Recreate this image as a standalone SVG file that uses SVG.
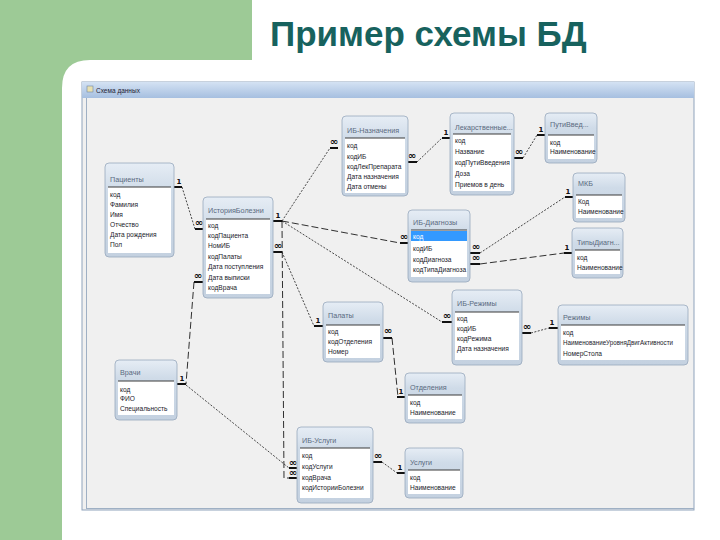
<svg xmlns="http://www.w3.org/2000/svg" width="720" height="540" viewBox="0 0 720 540">
<defs>
<linearGradient id="gFrame" x1="0" y1="0" x2="0" y2="1">
<stop offset="0" stop-color="#E6EDF5"/><stop offset="0.3" stop-color="#CFDBE8"/><stop offset="1" stop-color="#C4D1E0"/>
</linearGradient>
<linearGradient id="gBar" x1="0" y1="0" x2="0" y2="1">
<stop offset="0" stop-color="#D4E2F3"/><stop offset="1" stop-color="#A6BFE0"/>
</linearGradient>
<style>
.frame{fill:url(#gFrame);stroke:#98A8BC;stroke-width:0.8}
.list{fill:#FFFFFF}
.sep{stroke:#3A3A3A;stroke-width:1}
.ttl{font-family:"Liberation Sans",Arial,sans-serif;font-size:7.2px;fill:#5A6A80}
.row{font-family:"Liberation Sans",Arial,sans-serif;font-size:6.6px;fill:#1A1A2A}
.lnk{fill:none;stroke:#1A1A1A;stroke-width:0.8;stroke-dasharray:2,1.5}
.lnkL{fill:none;stroke:#1A1A1A;stroke-width:0.9;stroke-dasharray:7,3}
.bar{stroke:#111;stroke-width:2}
.card{font-family:"DejaVu Sans",sans-serif;font-size:7px;font-weight:bold;fill:#111;text-anchor:middle}
.inf{font-family:"DejaVu Sans",sans-serif;font-size:10px;font-weight:bold;fill:#111;text-anchor:middle}
</style>
</defs>

<!-- slide background -->
<rect width="720" height="540" fill="#FFFFFF"/>
<path d="M0,0 H252 V60 H62 V540 H0 Z" fill="#9DCA96"/>
<path d="M62,60 H90 Q62,60 62,88 Z" fill="#9DCA96"/>
<text x="270" y="46" font-family="'Liberation Sans',Arial,sans-serif" font-size="35" font-weight="bold" fill="#17625E">Пример схемы БД</text>

<!-- window -->
<g id="window">
<rect x="82" y="82" width="612" height="428" fill="#F0F0F0" stroke="#8FA3BC" stroke-width="1"/>
<rect x="82" y="82" width="612" height="16" fill="url(#gBar)"/>
<rect x="87" y="86" width="6" height="6" fill="#E8E0B0" stroke="#6F86A6" stroke-width="0.6"/>
<text x="96" y="93" font-family="'Liberation Sans',Arial,sans-serif" font-size="6.5" fill="#223">Схема данных</text>
<line x1="86.5" y1="98" x2="86.5" y2="508" stroke="#9FB0C4" stroke-width="1"/>
<line x1="86" y1="508.5" x2="694" y2="508.5" stroke="#9FB0C4" stroke-width="1"/>
</g>

<!-- connectors -->
<g id="connectors">
<path class="lnk" d="M182,187 L195,229"/>
<path class="lnk" d="M282,221 L330,148"/>
<path class="lnkL" d="M282,221 L400,243"/>
<path class="lnk" d="M282,221 L442,322"/>
<path class="lnkL" d="M282,221 L284,478 L289,478"/>
<path class="lnk" d="M282,252 L314,326"/>
<path class="lnkL" d="M194,282 L186,384"/>
<path class="lnk" d="M186,385 L289,468"/>
<path class="lnk" d="M417,162 L442,138"/>
<path class="lnk" d="M523,158 L537,135"/>
<path class="lnk" d="M480,253 L565,197"/>
<path class="lnkL" d="M480,264 L564,253"/>
<path class="lnk" d="M531,333 L549,328"/>
<path class="lnkL" d="M392,338 L398,397"/>
<path class="lnk" d="M382,462 L397,473"/>

<path class="bar" d="M174,187 H182 M195,229 H203 M273,221 H282 M273,252 H282 M194,282 H203 M177,384 H186 M330,148 H338 M400,243 H408 M442,322 H452 M289,468 H297 M289,478 H297 M314,326 H323 M408,162 H417 M442,138 H450 M514,158 H523 M537,135 H545 M470,253 H480 M565,197 H573 M470,264 H480 M564,253 H572 M522,333 H531 M549,328 H558 M383,338 H392 M397,397 H405 M373,462 H382 M397,473 H405"/>

<text class="card" x="179" y="184">1</text>
<text class="inf" x="199" y="226">∞</text>
<text class="card" x="278" y="218">1</text>
<text class="inf" x="278" y="249">∞</text>
<text class="inf" x="198" y="279">∞</text>
<text class="card" x="182" y="381">1</text>
<text class="inf" x="334" y="145">∞</text>
<text class="inf" x="404" y="240">∞</text>
<text class="inf" x="447" y="319">∞</text>
<text class="inf" x="293" y="466">∞</text>
<text class="inf" x="293" y="476">∞</text>
<text class="card" x="318" y="323">1</text>
<text class="inf" x="412" y="159">∞</text>
<text class="card" x="446" y="135">1</text>
<text class="inf" x="519" y="155">∞</text>
<text class="card" x="541" y="132">1</text>
<text class="inf" x="476" y="250">∞</text>
<text class="card" x="568" y="194">1</text>
<text class="inf" x="476" y="261">∞</text>
<text class="card" x="567" y="250">1</text>
<text class="inf" x="527" y="330">∞</text>
<text class="card" x="552" y="325">1</text>
<text class="inf" x="388" y="334">∞</text>
<text class="card" x="401" y="394">1</text>
<text class="inf" x="378" y="459">∞</text>
<text class="card" x="400" y="470">1</text>
</g>

<!-- tables -->
<g id="t-patients" transform="translate(105,163)">
<rect class="frame" width="69" height="94" rx="4"/>
<text class="ttl" x="5" y="19">Пациенты</text>
<rect class="list" x="3" y="24" width="63" height="66"/>
<line class="sep" x1="3" y1="24" x2="66" y2="24"/>
<text class="row" x="5" y="33.5">код</text>
<text class="row" x="5" y="43.5">Фамилия</text>
<text class="row" x="5" y="53.5">Имя</text>
<text class="row" x="5" y="63.5">Отчество</text>
<text class="row" x="5" y="73.5">Дата рождения</text>
<text class="row" x="5" y="83.5">Пол</text>
</g>

<g id="t-history" transform="translate(203,197)">
<rect class="frame" width="70" height="101" rx="4"/>
<text class="ttl" x="5" y="16">ИсторияБолезни</text>
<rect class="list" x="3" y="22" width="64" height="75"/>
<line class="sep" x1="3" y1="22" x2="67" y2="22"/>
<text class="row" x="5" y="30.5">код</text>
<text class="row" x="5" y="40.9">кодПациента</text>
<text class="row" x="5" y="51.3">НомИБ</text>
<text class="row" x="5" y="61.7">кодПалаты</text>
<text class="row" x="5" y="72.1">Дата поступления</text>
<text class="row" x="5" y="82.5">Дата выписки</text>
<text class="row" x="5" y="92.9">кодВрача</text>
</g>

<g id="t-ib-naznach" transform="translate(342,116)">
<rect class="frame" width="66" height="80" rx="4"/>
<text class="ttl" x="5" y="16.5">ИБ-Назначения</text>
<rect class="list" x="3" y="22" width="60" height="55"/>
<line class="sep" x1="3" y1="22" x2="63" y2="22"/>
<text class="row" x="5" y="32.4">код</text>
<text class="row" x="5" y="42.6">кодИБ</text>
<text class="row" x="5" y="52.8">кодЛекПрепарата</text>
<text class="row" x="5" y="63">Дата назначения</text>
<text class="row" x="5" y="73.2">Дата отмены</text>
</g>

<g id="t-lek" transform="translate(450,113)">
<rect class="frame" width="64" height="82" rx="4"/>
<text class="ttl" x="5" y="17">Лекарственные...</text>
<rect class="list" x="3" y="21" width="58" height="57"/>
<line class="sep" x1="3" y1="21" x2="61" y2="21"/>
<text class="row" x="5" y="29.5">код</text>
<text class="row" x="5" y="40.5">Название</text>
<text class="row" x="5" y="51.5">кодПутиВведения</text>
<text class="row" x="5" y="62.5">Доза</text>
<text class="row" x="5" y="73.5">Приемов в день</text>
</g>

<g id="t-puti" transform="translate(545,113)">
<rect class="frame" width="52" height="50" rx="4"/>
<text class="ttl" x="5" y="14">ПутиВвед...</text>
<rect class="list" x="3" y="22" width="46" height="24"/>
<line class="sep" x1="3" y1="22" x2="49" y2="22"/>
<text class="row" x="5" y="31.5">код</text>
<text class="row" x="5" y="40.5">Наименование</text>
</g>

<g id="t-mkb" transform="translate(573,173)">
<rect class="frame" width="52" height="49" rx="4"/>
<text class="ttl" x="5" y="13">МКБ</text>
<rect class="list" x="3" y="22" width="46" height="23"/>
<line class="sep" x1="3" y1="22" x2="49" y2="22"/>
<text class="row" x="5" y="30.5">Код</text>
<text class="row" x="5" y="40.5">Наименование</text>
</g>

<g id="t-tipy" transform="translate(572,228)">
<rect class="frame" width="51" height="50" rx="4"/>
<text class="ttl" x="5" y="16.5">ТипыДиагн...</text>
<rect class="list" x="3" y="22" width="45" height="24"/>
<line class="sep" x1="3" y1="22" x2="48" y2="22"/>
<text class="row" x="5" y="31.5">код</text>
<text class="row" x="5" y="41.5">Наименование</text>
</g>

<g id="t-ib-diag" transform="translate(408,210)">
<rect class="frame" width="62" height="72" rx="4"/>
<text class="ttl" x="5" y="14.5">ИБ-Диагнозы</text>
<rect class="list" x="3" y="20" width="56" height="47"/>
<rect x="3" y="21" width="56" height="10" fill="#3399FF"/>
<line class="sep" x1="3" y1="20" x2="59" y2="20"/>
<text class="row" x="5" y="29" style="fill:#FFFFFF">код</text>
<text class="row" x="5" y="40.5">кодИБ</text>
<text class="row" x="5" y="51.5">кодДиагноза</text>
<text class="row" x="5" y="61.5">кодТипаДиагноза</text>
</g>

<g id="t-ib-rezh" transform="translate(452,290)">
<rect class="frame" width="70" height="75" rx="4"/>
<text class="ttl" x="5" y="15.5">ИБ-Режимы</text>
<rect class="list" x="3" y="22" width="64" height="48"/>
<line class="sep" x1="3" y1="22" x2="67" y2="22"/>
<text class="row" x="5" y="30.5">код</text>
<text class="row" x="5" y="40.5">кодИБ</text>
<text class="row" x="5" y="50.5">кодРежима</text>
<text class="row" x="5" y="60.5">Дата назначения</text>
</g>

<g id="t-rezh" transform="translate(558,305)">
<rect class="frame" width="130" height="60" rx="4"/>
<text class="ttl" x="5" y="14.5">Режимы</text>
<rect class="list" x="3" y="20" width="124" height="35"/>
<line class="sep" x1="3" y1="20" x2="127" y2="20"/>
<text class="row" x="5" y="29.5">код</text>
<text class="row" x="5" y="39.5" textLength="110" lengthAdjust="spacingAndGlyphs">НаименованиеУровняДвигАктивности</text>
<text class="row" x="5" y="50.5">НомерСтола</text>
</g>

<g id="t-palaty" transform="translate(323,302)">
<rect class="frame" width="60" height="60" rx="4"/>
<text class="ttl" x="5" y="15.5">Палаты</text>
<rect class="list" x="3" y="23" width="54" height="33"/>
<line class="sep" x1="3" y1="23" x2="57" y2="23"/>
<text class="row" x="5" y="31.5">код</text>
<text class="row" x="5" y="41.5">кодОтделения</text>
<text class="row" x="5" y="51.5">Номер</text>
</g>

<g id="t-otdel" transform="translate(405,373)">
<rect class="frame" width="60" height="50" rx="4"/>
<text class="ttl" x="5" y="16.5">Отделения</text>
<rect class="list" x="3" y="22" width="54" height="24"/>
<line class="sep" x1="3" y1="22" x2="57" y2="22"/>
<text class="row" x="5" y="31.5">код</text>
<text class="row" x="5" y="41.5">Наименование</text>
</g>

<g id="t-vrachi" transform="translate(115,360)">
<rect class="frame" width="62" height="60" rx="4"/>
<text class="ttl" x="5" y="14.5">Врачи</text>
<rect class="list" x="3" y="21" width="56" height="34"/>
<line class="sep" x1="3" y1="21" x2="59" y2="21"/>
<text class="row" x="5" y="31.5">код</text>
<text class="row" x="5" y="40.5">ФИО</text>
<text class="row" x="5" y="50.5">Специальность</text>
</g>

<g id="t-ib-usl" transform="translate(297,427)">
<rect class="frame" width="76" height="76" rx="4"/>
<text class="ttl" x="5" y="15.5">ИБ-Услуги</text>
<rect class="list" x="3" y="21" width="70" height="50"/>
<line class="sep" x1="3" y1="21" x2="73" y2="21"/>
<text class="row" x="5" y="30.5">код</text>
<text class="row" x="5" y="42">кодУслуги</text>
<text class="row" x="5" y="52.5">кодВрача</text>
<text class="row" x="5" y="63">кодИсторииБолезни</text>
</g>

<g id="t-usl" transform="translate(405,448)">
<rect class="frame" width="58" height="50" rx="4"/>
<text class="ttl" x="5" y="16.5">Услуги</text>
<rect class="list" x="3" y="22" width="52" height="24"/>
<line class="sep" x1="3" y1="22" x2="55" y2="22"/>
<text class="row" x="5" y="31.5">код</text>
<text class="row" x="5" y="41.5">Наименование</text>
</g>
</svg>
